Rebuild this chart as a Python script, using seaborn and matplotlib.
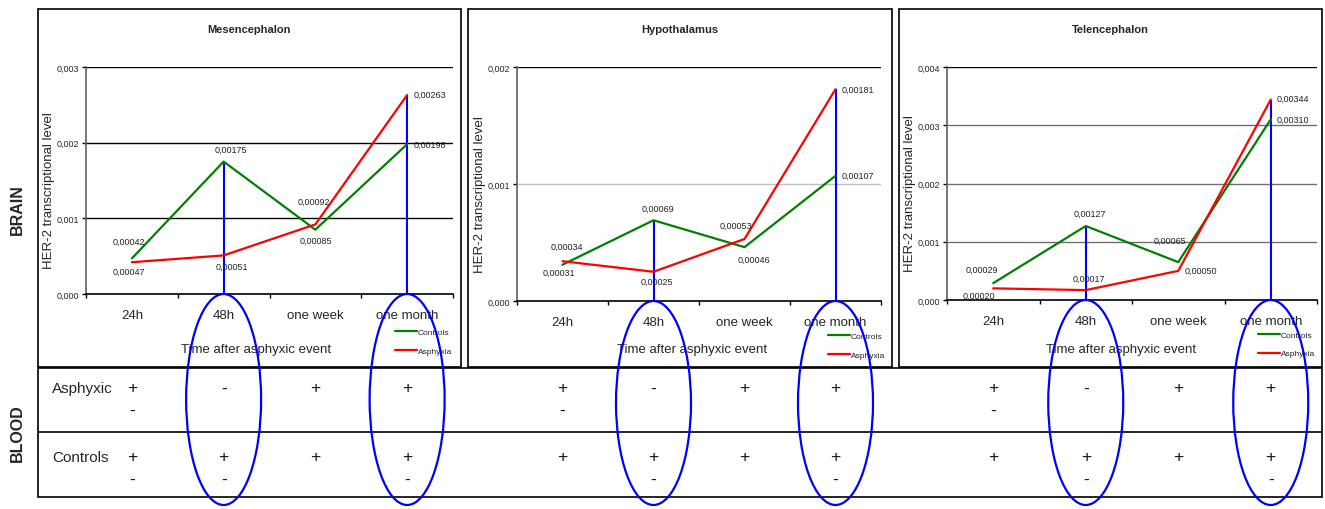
import matplotlib
matplotlib.use("Agg")
import matplotlib.pyplot as plt
from matplotlib.patches import Rectangle, Ellipse
from matplotlib.lines import Line2D
from matplotlib.ticker import FuncFormatter, FixedLocator
import pandas as pd
import seaborn as sns

# --- data ---
time_points = ["24h", "48h", "one week", "one month"]
regions = ["Mesencephalon", "Hypothalamus", "Telencephalon"]

meso_controls = [0.00047, 0.00175, 0.00085, 0.00198]
meso_asphyxia = [0.00042, 0.00051, 0.00092, 0.00263]
hypo_controls = [0.00031, 0.00069, 0.00046, 0.00107]
hypo_asphyxia = [0.00034, 0.00025, 0.00053, 0.00181]
tele_controls = [0.00029, 0.00127, 0.00065, 0.00310]
tele_asphyxia = [0.00020, 0.00017, 0.00050, 0.00344]

y_top = [0.003, 0.002, 0.004]
highlighted = ["48h", "one month"]

blood_asphyxic = [["+\n-", "-", "+", "+"],
                  ["+\n-", "-", "+", "+"],
                  ["+\n-", "-", "+", "+"]]
blood_controls = [["+\n-", "+\n-", "+", "+\n-"],
                  ["+", "+\n-", "+", "+\n-"],
                  ["+", "+\n-", "+", "+\n-"]]

# --- layout (pixels) ---
W, H = 1325, 510
def fx(x):
    return x / W
def fy(y):
    return 1 - y / H

ax_px = [(86, 68, 453, 295), (517, 68, 881, 302), (947, 68, 1317, 301)]
box_px = [(38, 10, 461, 368), (468, 10, 892, 368), (899, 10, 1322, 368)]
legend_px = [(395, 329), (828, 333), (1258, 332)]
xlabel_x = [0.463, 0.48, 0.47]
grid_cols = [["black", "black", "black"],
             ["#c0c0c0", "black"],
             ["#707070", "#707070", "#707070", "black"]]

# label offsets in pixels (dx, dy, ha)
label_off = {
    0: {"Controls": [(-3, -13, "center"), (7, 12, "center"), (0, -11, "center"), (6, 0, "left")],
        "Asphyxia": [(-3, 21, "center"), (8, -11, "center"), (-2, 23, "center"), (6, 1, "left")]},
    1: {"Controls": [(-4, -8, "center"), (4, 12, "center"), (9, -12, "center"), (6, 0, "left")],
        "Asphyxia": [(4, 15, "center"), (3, -10, "center"), (-9, 14, "center"), (6, 0, "left")]},
    2: {"Controls": [(-11, 14, "center"), (4, 13, "center"), (-8, 22, "center"), (6, 0, "left")],
        "Asphyxia": [(-14, -7, "center"), (3, 12, "center"), (6, 1, "left"), (6, 1, "left")]},
}

series = [(meso_controls, meso_asphyxia),
          (hypo_controls, hypo_asphyxia),
          (tele_controls, tele_asphyxia)]

sns.set_style("white")
plt.rcParams["font.family"] = ["Liberation Sans", "DejaVu Sans"]

palette = {"Controls": "#008000", "Asphyxia": "#ff0000"}
fig = plt.figure(figsize=(W / 100, H / 100), dpi=100)

# outer boxes
for (l, t, r, b) in box_px:
    fig.add_artist(Rectangle((fx(l), fy(b)), fx(r) - fx(l), fy(t) - fy(b),
                             transform=fig.transFigure, fill=False,
                             edgecolor="black", lw=1.2))
fig.add_artist(Rectangle((fx(38), fy(498)), fx(1322) - fx(38), fy(369) - fy(498),
                         transform=fig.transFigure, fill=False, edgecolor="black", lw=1.2))
fig.add_artist(Line2D([fx(38), fx(1322)], [fy(433), fy(433)],
                      transform=fig.transFigure, color="black", lw=1.2))

fig.text(fx(17), fy(210), "BRAIN", rotation=90, ha="center", va="center",
         fontsize=11.5, fontweight="bold")
fig.text(fx(17), fy(433), "BLOOD", rotation=90, ha="center", va="center",
         fontsize=11.5, fontweight="bold")
fig.text(fx(52), fy(389), "Asphyxic", ha="left", va="center", fontsize=11)
fig.text(fx(52), fy(458), "Controls", ha="left", va="center", fontsize=11)

fmt = FuncFormatter(lambda v, p: f"{v:.3f}".replace(".", ","))

for k, region in enumerate(regions):
    l, t, r, b = ax_px[k]
    ax = fig.add_axes([fx(l), fy(b), fx(r) - fx(l), fy(t) - fy(b)])
    ctrl, asph = series[k]
    df = pd.DataFrame({
        "time": time_points * 2,
        "level": ctrl + asph,
        "group": ["Controls"] * 4 + ["Asphyxia"] * 4,
    })
    sns.lineplot(data=df, x="time", y="level", hue="group",
                 hue_order=["Controls", "Asphyxia"], palette=palette,
                 estimator=None, sort=False, lw=1.6, ax=ax, zorder=3)

    ax.set_xlim(-0.5, 3.5)
    ax.set_ylim(0, y_top[k])
    yt = [i * 0.001 for i in range(int(round(y_top[k] / 0.001)) + 1)]
    ax.set_yticks(yt)
    ax.yaxis.set_major_formatter(fmt)
    for v, c in zip(yt[1:], grid_cols[k]):
        ax.axhline(v, color=c, lw=1.0, zorder=1)

    ax.xaxis.set_minor_locator(FixedLocator([-0.5, 0.5, 1.5, 2.5, 3.5]))
    ax.tick_params(axis="x", which="major", length=0, labelsize=9.5, pad=11)
    ax.tick_params(axis="x", which="minor", length=3, width=1, color="black",
                   direction="out", bottom=True)
    ax.tick_params(axis="y", length=3, width=1, direction="out", left=True,
                   labelsize=6.5, pad=2, color="black")
    for s in ["top", "right"]:
        ax.spines[s].set_visible(False)
    ax.spines["left"].set_color("#606060")
    ax.spines["bottom"].set_color("black")
    ax.spines["left"].set_linewidth(1.2)
    ax.spines["bottom"].set_linewidth(1.2)

    ax.set_xlabel("Time after asphyxic event", fontsize=9.5)
    ax.xaxis.set_label_coords(xlabel_x[k], (b - 344) / (b - t))
    ax.set_ylabel("HER-2 transcriptional level", fontsize=9.5)
    ax.yaxis.set_label_coords(-0.085, 0.46)

    # value labels
    for name, vals in [("Controls", ctrl), ("Asphyxia", asph)]:
        for i, v in enumerate(vals):
            dx, dy, ha = label_off[k][name][i]
            ax.annotate(f"{v:.5f}".replace(".", ","), xy=(i, v),
                        xytext=(dx, dy), textcoords="offset pixels",
                        ha=ha, va="center", fontsize=6.5, color="#222222",
                        zorder=4)

    # blue markers at highlighted times
    for h in highlighted:
        i = time_points.index(h)
        ax.vlines(i, 0, max(ctrl[i], asph[i]), color="#0000ff", lw=1.5, zorder=2)

    # legend
    handles, labels = ax.get_legend_handles_labels()
    ax.legend(handles, labels, loc="upper left",
              bbox_to_anchor=(fx(legend_px[k][0]), fy(legend_px[k][1])),
              bbox_transform=fig.transFigure, frameon=False, fontsize=6,
              handlelength=2.6, handletextpad=0.1, labelspacing=1.3,
              borderpad=0, borderaxespad=0)

    # title
    bl, bt, br, bb = box_px[k]
    fig.text(fx((bl + br) / 2), fy(30), region, ha="center", va="center",
             fontsize=8, fontweight="bold")

    # blood table entries and ellipses
    fig.canvas.draw()
    for i, tp in enumerate(time_points):
        xd = ax.transData.transform((i, 0))[0]
        xf = xd / W
        for row_y, entries in [(389, blood_asphyxic), (458, blood_controls)]:
            for j, sym in enumerate(entries[k][i].split("\n")):
                fig.text(xf, fy(row_y + 22 * j), sym, ha="center", va="center",
                         fontsize=12.5, color="#111111")
        if tp in highlighted:
            top, bot = b, 506
            fig.add_artist(Ellipse((xf, fy((top + bot) / 2)), fx(75),
                                   (bot - top) / H, transform=fig.transFigure,
                                   fill=False, edgecolor="#0000ff", lw=1.6,
                                   zorder=10))

fig.savefig("out.png", dpi=100)
